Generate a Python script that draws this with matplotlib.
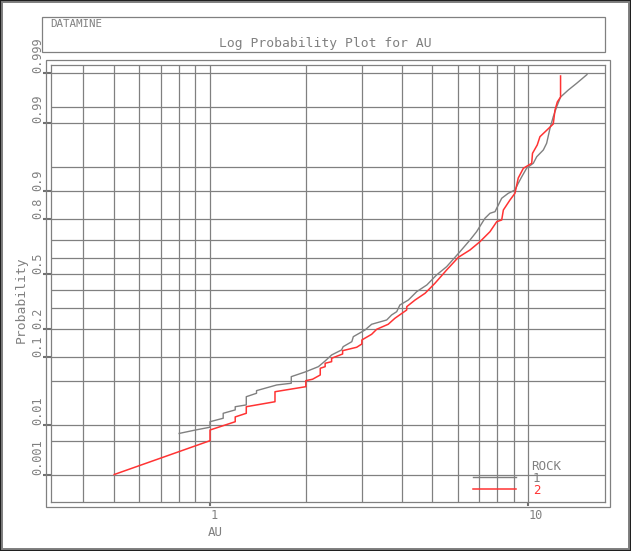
import matplotlib
matplotlib.use("Agg")
import numpy as np
import matplotlib.pyplot as plt
from matplotlib.patches import Rectangle
from matplotlib.lines import Line2D
from matplotlib.ticker import NullLocator
from statistics import NormalDist

# ── Data ──────────────────────────────────────────────────────────────────────
# ROCK 1 (grey) : AU value and cumulative probability
rock1_au = [0.80, 0.90, 1.00, 1.00, 1.10, 1.10, 1.20, 1.20, 1.30, 1.30,
            1.40, 1.40, 1.62, 1.80, 1.80, 1.99, 2.19, 2.30, 2.41, 2.59,
            2.62, 2.79, 2.82, 3.07, 3.22, 3.59, 3.72, 3.86, 3.95, 4.20,
            4.46, 4.80, 5.15, 5.54, 6.10, 6.56, 6.88, 7.31, 7.58, 7.86,
            8.25, 8.65, 9.08, 9.30, 9.53, 9.89, 10.37, 10.63, 11.15, 11.42,
            11.70, 11.98, 12.28, 12.63, 13.36, 14.19, 15.29]
rock1_prob = [0.0070, 0.0081, 0.0091, 0.0114, 0.0131, 0.0159, 0.0181, 0.0204, 0.0218, 0.0293,
              0.0330, 0.0361, 0.0436, 0.0461, 0.0568, 0.0655, 0.0766, 0.0900, 0.1060, 0.1208,
              0.1313, 0.1485, 0.1670, 0.1941, 0.2192, 0.2392, 0.2638, 0.2807, 0.3164, 0.3443,
              0.3925, 0.4328, 0.4939, 0.5448, 0.6344, 0.6998, 0.7427, 0.8047, 0.8252, 0.8315,
              0.8783, 0.8931, 0.9022, 0.9189, 0.9325, 0.9488, 0.9560, 0.9646, 0.9720, 0.9780,
              0.9876, 0.9923, 0.9950, 0.9968, 0.99771, 0.99835, 0.99894]

# ROCK 2 (red)
rock2_au = [0.50, 1.00, 1.00, 1.20, 1.20, 1.30, 1.30, 1.60, 1.60, 2.00,
            2.00, 2.10, 2.22, 2.22, 2.30, 2.30, 2.41, 2.41, 2.61, 2.61,
            2.89, 3.00, 3.00, 3.22, 3.34, 3.63, 3.81, 4.15, 4.15, 4.41,
            4.74, 5.09, 5.54, 6.03, 6.56, 7.05, 7.58, 7.96, 8.25, 8.35,
            8.76, 9.08, 9.30, 9.65, 10.25, 10.31, 10.67, 10.88, 11.36, 11.98,
            12.13, 12.34, 12.63, 12.63]
rock2_prob = [0.0010, 0.0051, 0.0081, 0.0114, 0.0138, 0.0159, 0.0204, 0.0245, 0.0348, 0.0412,
              0.0501, 0.0524, 0.0598, 0.0731, 0.0766, 0.0844, 0.0883, 0.0970, 0.1088, 0.1186,
              0.1294, 0.1403, 0.1546, 0.1764, 0.1971, 0.2192, 0.2474, 0.2896, 0.3072, 0.3443,
              0.3832, 0.4430, 0.5246, 0.6015, 0.6443, 0.6907, 0.7427, 0.7899, 0.7973, 0.8379,
              0.8729, 0.8931, 0.9304, 0.9483, 0.9560, 0.9685, 0.9766, 0.9828, 0.9862, 0.9896,
              0.9942, 0.9960, 0.9968, 0.99886]

prob_labels = [0.001, 0.01, 0.1, 0.2, 0.5, 0.8, 0.9, 0.99, 0.999]
prob_grid = [0.001, 0.005, 0.01, 0.05, 0.1, 0.2, 0.3, 0.4, 0.5, 0.6,
             0.7, 0.8, 0.9, 0.95, 0.99, 0.995, 0.999]
au_grid = [0.4, 0.5, 0.6, 0.7, 0.8, 0.9, 1, 2, 3, 4, 5, 6, 7, 8, 9, 10]
au_labels = [1, 10]

# ── Normal probability scale ─────────────────────────────────────────────────
nd = NormalDist()
_ppf = np.vectorize(nd.inv_cdf, otypes=[float])
_cdf = np.vectorize(nd.cdf, otypes=[float])


def forward(p):
    return _ppf(np.clip(np.asarray(p, dtype=float), 1e-9, 1 - 1e-9))


def inverse(z):
    return _cdf(np.asarray(z, dtype=float))


GREY = "#808080"
RED = "#ff3333"
MONO = "DejaVu Sans Mono"

W, H = 631, 551
fig = plt.figure(figsize=(W / 100, H / 100), dpi=100)
fig.patch.set_facecolor("white")

ax = fig.add_axes([50.7 / W, 1 - 502.3 / H, 554.3 / W, 437.6 / H])
ax.set_xscale("log")
ax.set_yscale("function", functions=(forward, inverse))
ax.set_xlim(0.3158, 17.42)
ax.set_ylim(0.000217, 0.99937)

for p in prob_grid:
    ax.axhline(p, color=GREY, linewidth=0.9, zorder=1)
for v in au_grid:
    ax.axvline(v, color=GREY, linewidth=0.9, zorder=1)

ax.plot(rock1_au, rock1_prob, color=GREY, linewidth=1.0, zorder=3)
ax.plot(rock2_au, rock2_prob, color=RED, linewidth=1.1, zorder=4)

for s in ax.spines.values():
    s.set_color(GREY)
    s.set_linewidth(0.9)

ax.set_yticks(prob_labels)
ax.set_xticks(au_labels)
ax.xaxis.set_minor_locator(NullLocator())
ax.yaxis.set_minor_locator(NullLocator())
ax.tick_params(axis="y", direction="out", length=5.8, width=1.5, color="#707070",
               labelleft=False)
ax.tick_params(axis="x", direction="out", length=3.0, width=1.5, color="#707070",
               labelbottom=False)

# tick labels (rotated probabilities, left aligned AU values)
ytrans = ax.get_yaxis_transform()
for p in prob_labels:
    ax.text(-0.0229, p, f"{p:g}", transform=ytrans, rotation=90, ha="center",
            va="bottom", color=GREY, family=MONO, fontsize=8.6, clip_on=False)
xtrans = ax.get_xaxis_transform()
for v in au_labels:
    ax.text(v, -0.031, f"{v:g}", transform=xtrans, ha="left", va="center",
            color=GREY, family=MONO, fontsize=8.6, clip_on=False)

fig.text(215 / W, 1 - 533 / H, "AU", ha="center", va="center", color=GREY,
         family=MONO, fontsize=9)
fig.text(21 / W, 1 - 300 / H, "Probability", rotation=90, ha="center",
         va="center", color=GREY, family=MONO, fontsize=9.4)

# outer plot frame
fig.patches.append(Rectangle((46 / W, 1 - 506.7 / H), 564 / W, 446.7 / H,
                             transform=fig.transFigure, fill=False,
                             edgecolor=GREY, linewidth=0.9, zorder=0))

# title box
fig.patches.append(Rectangle((42 / W, 1 - 52 / H), 563 / W, 35 / H,
                             transform=fig.transFigure, fill=False,
                             edgecolor=GREY, linewidth=0.9))
fig.text(50 / W, 1 - 24 / H, "DATAMINE", ha="left", va="center", color=GREY,
         family=MONO, fontsize=7.8)
fig.text(325.5 / W, 1 - 43 / H, "Log Probability Plot for AU", ha="center",
         va="center", color=GREY, family=MONO, fontsize=9.4)

# legend
fig.add_artist(Line2D([473 / W, 516 / W], [1 - 477.3 / H] * 2, color=GREY,
                      linewidth=1.0, transform=fig.transFigure))
fig.add_artist(Line2D([473 / W, 516 / W], [1 - 489 / H] * 2, color=RED,
                      linewidth=1.1, transform=fig.transFigure))
fig.text(531 / W, 1 - 466 / H, "ROCK", ha="left", va="center", color=GREY,
         family=MONO, fontsize=9)
fig.text(533 / W, 1 - 478 / H, "1", ha="left", va="center", color=GREY,
         family=MONO, fontsize=9)
fig.text(533 / W, 1 - 490.5 / H, "2", ha="left", va="center", color=RED,
         family=MONO, fontsize=9)

# window border
fig.patches.append(Rectangle((0, 0), 1, 1, transform=fig.transFigure, fill=False,
                             edgecolor=GREY, linewidth=4.3))
fig.patches.append(Rectangle((0, 0), 1, 1, transform=fig.transFigure, fill=False,
                             edgecolor="#202020", linewidth=1.5))

fig.savefig("out.png", dpi=100)
